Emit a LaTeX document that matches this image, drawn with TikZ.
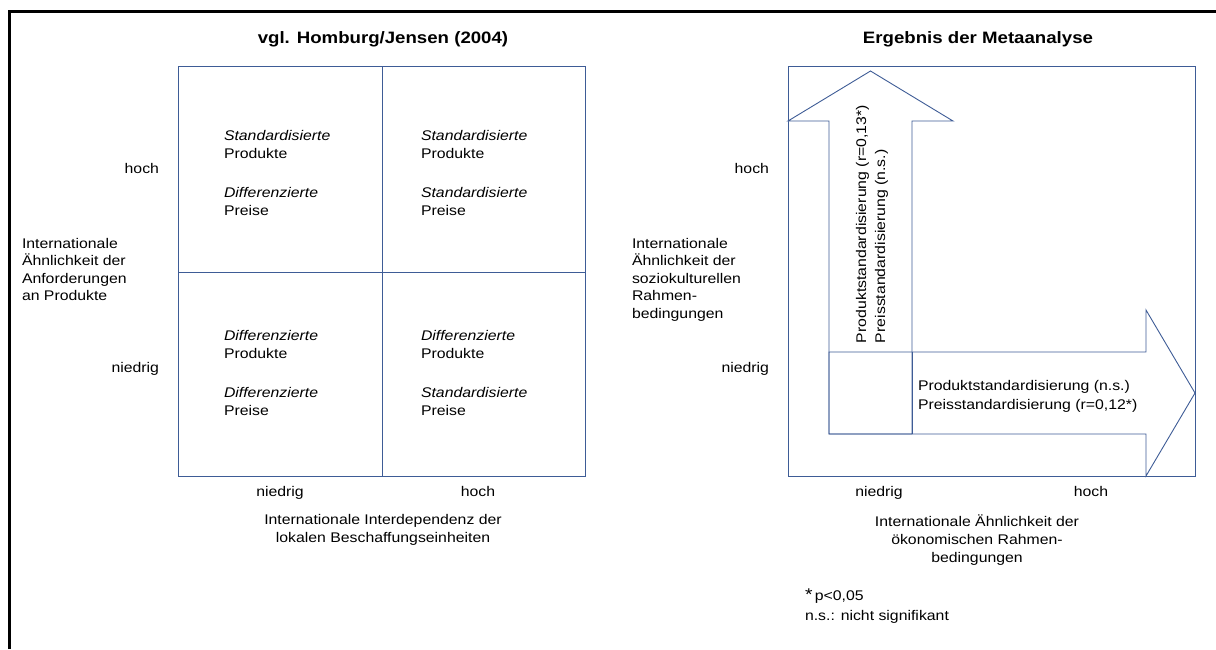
\documentclass[tikz,border=0pt]{standalone}
\usepackage{fontspec}
\setmainfont{Liberation Sans}[FakeStretch=1.13]
\definecolor{ln}{RGB}{62,92,150}
\begin{document}
\begin{tikzpicture}[x=1pt,y=-1pt,
  every node/.style={inner sep=0pt,outer sep=0pt},
  txt/.style={font=\fontsize{14}{17.5}\selectfont},
  ttl/.style={font=\fontsize{16.5}{20}\selectfont\bfseries,anchor=base},
  lw/.style={txt,anchor=base west},
  le/.style={txt,anchor=base east},
  lc/.style={txt,anchor=base},
  box/.style={draw=ln,line width=0.9pt},
  frame/.style={draw=black,line width=3pt}]
\useasboundingbox (0,0) rectangle (1216,649);
% outer frame (top and left edges)
\draw[frame] (9,649) -- (9,11) -- (1216,11);
% titles
\node[ttl] (t1) at (383,43) {vgl. Homburg/Jensen (2004)};
\node[ttl] (t2) at (978,43) {Ergebnis der Metaanalyse};
% ---------- left panel ----------
\draw[box] (178,66) rectangle (585,476);
\draw[box] (382,66) -- (382,476);
\draw[box] (178,272) -- (585,272);
% cells
\node[lw] (a1) at (224,140) {\itshape Standardisierte};
\node[lw] (a2) at (224,158) {Produkte};
\node[lw] (a3) at (224,197) {\itshape Differenzierte};
\node[lw] (a4) at (224,215) {Preise};
\node[lw] (b1) at (421,140) {\itshape Standardisierte};
\node[lw] (b2) at (421,158) {Produkte};
\node[lw] (b3) at (421,197) {\itshape Standardisierte};
\node[lw] (b4) at (421,215) {Preise};
\node[lw] (c1) at (224,340) {\itshape Differenzierte};
\node[lw] (c2) at (224,358) {Produkte};
\node[lw] (c3) at (224,397) {\itshape Differenzierte};
\node[lw] (c4) at (224,415) {Preise};
\node[lw] (d1) at (421,340) {\itshape Differenzierte};
\node[lw] (d2) at (421,358) {Produkte};
\node[lw] (d3) at (421,397) {\itshape Standardisierte};
\node[lw] (d4) at (421,415) {Preise};
% axis labels
\node[le] (lh) at (159,173) {hoch};
\node[le] (ln) at (159,372) {niedrig};
\node[lw] (ly1) at (22,248) {Internationale};
\node[lw] (ly2) at (22,265.5) {Ähnlichkeit der};
\node[lw] (ly3) at (22,283) {Anforderungen};
\node[lw] (ly4) at (22,300.5) {an Produkte};
\node[lc] (lxn) at (280,496) {niedrig};
\node[lc] (lxh) at (478,496) {hoch};
\node[lc] (lx1) at (383,524) {Internationale Interdependenz der};
\node[lc] (lx2) at (383,542) {lokalen Beschaffungseinheiten};
% ---------- right panel ----------
\draw[box] (788,66) rectangle (1195,476);
% up arrow
\draw[box,fill=white] (829,434) -- (829,121) -- (788,121) -- (870.5,71) -- (953,121) -- (912,121) -- (912,434) -- cycle;
% right arrow
\draw[box] (829,352) -- (1146,352) -- (1146,310) -- (1195,393) -- (1146,476) -- (1146,434) -- (829,434) -- cycle;
\draw[box] (912,352) -- (912,434);
\node[txt,rotate=90,anchor=base west] (u1) at (866,343) {Produktstandardisierung (r=0,13*)};
\node[txt,rotate=90,anchor=base west] (u2) at (885,343) {Preisstandardisierung (n.s.)};
\node[lw] (r1) at (918,390) {Produktstandardisierung (n.s.)};
\node[lw] (r2) at (918,409) {Preisstandardisierung (r=0,12*)};
% axis labels
\node[le] (rh) at (769,173) {hoch};
\node[le] (rn) at (769,372) {niedrig};
\node[lw] (ry1) at (632,248) {Internationale};
\node[lw] (ry2) at (632,265.5) {Ähnlichkeit der};
\node[lw] (ry3) at (632,283) {soziokulturellen};
\node[lw] (ry4) at (632,300.5) {Rahmen-};
\node[lw] (ry5) at (632,318) {bedingungen};
\node[lc] (rxn) at (879,496) {niedrig};
\node[lc] (rxh) at (1091,496) {hoch};
\node[lc] (rx1) at (977,526) {Internationale Ähnlichkeit der};
\node[lc] (rx2) at (977,544) {ökonomischen Rahmen-};
\node[lc] (rx3) at (977,562) {bedingungen};
% footnote
\node[lw] (f1) at (805,600) {{\fontsize{17}{17}\selectfont*}\,p<0,05};
\node[lw] (f2) at (805,620) {n.s.: nicht signifikant};
\end{tikzpicture}
\end{document}
